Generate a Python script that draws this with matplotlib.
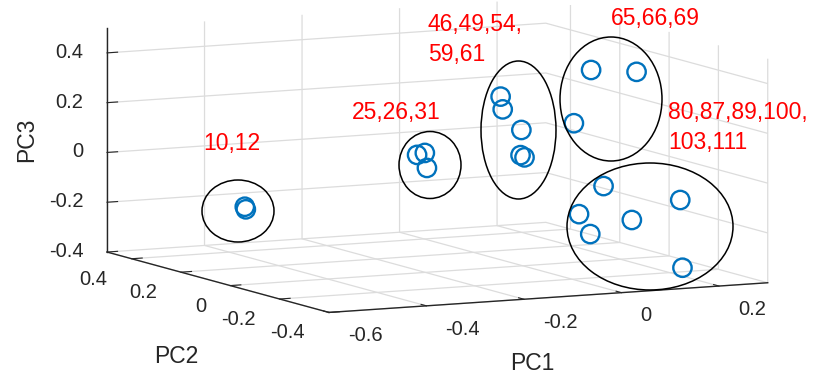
import numpy as np
import matplotlib
matplotlib.use("Agg")
import matplotlib.pyplot as plt
from matplotlib.patches import Ellipse
from mpl_toolkits.mplot3d import proj3d

plt.rcParams["font.family"] = ["Liberation Sans", "DejaVu Sans"]
plt.rcParams["axes.unicode_minus"] = False

# -----------------------------
# PCA scores
# -----------------------------
# groups: 10,12 | 25,26,31 | 46,49,54,59,61 | 65,66,69 | 80,87,89,100,103,111
pc1 = [-0.545, -0.553,
       -0.227, -0.201, -0.222,
       0.005, -0.016, -0.003, -0.030, -0.037,
       0.140, 0.208, 0.130,
       0.115, 0.247, 0.090, 0.173, 0.113, 0.201]
pc2 = [0.05, 0.03,
       -0.02, 0.00, -0.05,
       0.10, 0.05, 0.00, -0.05, -0.08,
       0.00, -0.05, 0.05,
       -0.10, -0.15, -0.05, -0.10, -0.05, -0.25]
pc3 = [-0.104, -0.108,
       0.081, 0.080, 0.036,
       0.252, 0.217, 0.146, 0.062, 0.062,
       0.368, 0.365, 0.142,
       -0.068, -0.128, -0.191, -0.212, -0.274, -0.367]

group_labels = ["10,12", "25,26,31", "46,49,54,\n59,61", "65,66,69", "80,87,89,100,\n103,111"]

pc1_lim = (-0.6, 0.3)
pc2_lim = (-0.4, 0.5)
pc3_lim = (-0.4, 0.5)
pc1_ticks = [-0.6, -0.4, -0.2, 0, 0.2]
pc2_ticks = [-0.4, -0.2, 0, 0.2, 0.4]
pc3_ticks = [-0.4, -0.2, 0, 0.2, 0.4]

# -----------------------------
# layout (pixels, origin top-left)
# -----------------------------
W, H = 814, 376
label_pos = [(203.5, 150), (352, 119), (428, 31), (611, 25), (668, 119.3)]
line_step = 30
ellipse_box = [(238, 211, 72, 62), (430, 165, 62, 67), (518.5, 130, 75, 138),
               (611, 99, 102, 124), (650, 226.5, 166, 127)]
# where the box corners should land: (x0,y0,z0), (x1,y0,z0), (x0,y1,z0), (x0,y1,z1)
corner_px = [(329, 312.5), (767.7, 282.7), (107, 252), (107, 28)]
# tick label offsets from the tick point (px right, px down to baseline)
pc1_lab_off = (19, 28.8)
pc2_lab_off = (-24, 26)
pc3_lab_off = (-23.5, 5)

ink = "#262626"
tick_fs = 14.5

fig = plt.figure(figsize=(W / 100, H / 100), dpi=100)
ax = fig.add_axes([0, 0, 1, 1], projection="3d")
ax.set_proj_type("ortho")
ax.view_init(elev=7.8, azim=-116.5)
ax.set_box_aspect((490, 497, 226))

ax.scatter(pc1, pc2, pc3, s=175, facecolors="none", edgecolors="#0072BD",
           linewidths=1.7, depthshade=False)

ax.set_xlim(pc1_lim)
ax.set_ylim(pc2_lim)
ax.set_zlim(pc3_lim)
ax.set_xticks(pc1_ticks)
ax.set_yticks(pc2_ticks)
ax.set_zticks(pc3_ticks)

for axis in (ax.xaxis, ax.yaxis, ax.zaxis):
    axis.set_tick_params(colors=ink, labelbottom=False, labeltop=False)
    axis.set_pane_color((1, 1, 1, 0))
    axis.pane.set_edgecolor((1, 1, 1, 0))
    axis.line.set_color(ink)
    axis.line.set_linewidth(1.0)
    axis._axinfo["grid"].update(color="#dcdcdc", linewidth=0.9)
    axis._axinfo["tick"]["inward_factor"] = 0.0
    axis._axinfo["tick"]["outward_factor"] = 0.3
ax.patch.set_visible(False)


def to_px(xs, ys, zs):
    # 3D data -> display pixels through the axes' own projection
    px, py, _ = proj3d.proj_transform(np.asarray(xs, float), np.asarray(ys, float),
                                      np.asarray(zs, float), ax.get_proj())
    return ax.transData.transform(np.column_stack([px, py]))


# fit the axes box so the plot box lands where it is in the picture
fig.canvas.draw()
pix = to_px([pc1_lim[0], pc1_lim[1], pc1_lim[0], pc1_lim[0]],
            [pc2_lim[0], pc2_lim[0], pc2_lim[1], pc2_lim[1]],
            [pc3_lim[0], pc3_lim[0], pc3_lim[0], pc3_lim[1]])
bb = ax.get_window_extent()
c0 = np.array([bb.x0 + bb.width / 2, bb.y0 + bb.height / 2])
q = (pix - c0) / bb.width
rows, rhs = [], []
for (qx, qy), (tx, ty) in zip(q, corner_px):
    rows.append([1, 0, qx]); rhs.append(tx)
    rows.append([0, 1, qy]); rhs.append(H - ty)
cx, cy, side = np.linalg.lstsq(np.array(rows), np.array(rhs), rcond=None)[0]
ax.set_position([(cx - side / 2) / W, (cy - side / 2) / H, side / W, side / H])


def fmt(v):
    return "0" if v == 0 else f"{v:g}"


def tick_labels(xs, ys, zs, vals, off, ha):
    for (x, y), v in zip(to_px(xs, ys, zs), vals):
        fig.text((x + off[0]) / W, (y - off[1]) / H, fmt(v), ha=ha, va="baseline",
                 fontsize=tick_fs, color=ink)


n = len(pc1_ticks)
tick_labels(pc1_ticks, [pc2_lim[0]] * n, [pc3_lim[0]] * n, pc1_ticks, pc1_lab_off, "left")
tick_labels([pc1_lim[0]] * n, pc2_ticks, [pc3_lim[0]] * n, pc2_ticks, pc2_lab_off, "right")
tick_labels([pc1_lim[0]] * n, [pc2_lim[1]] * n, pc3_ticks, pc3_ticks, pc3_lab_off, "right")

# axis labels
fig.text(176 / W, 1 - 363 / H, "PC2", fontsize=16.5, color=ink, ha="center", va="baseline")
fig.text(532.5 / W, 1 - 370 / H, "PC1", fontsize=16.5, color=ink, ha="center", va="baseline")
fig.text(33 / W, 1 - 140 / H, "PC3", fontsize=16.5, color=ink, ha="center", va="baseline",
         rotation=90, rotation_mode="anchor")

# cluster annotations
for (x, y), txt in zip(label_pos, group_labels):
    for i, line in enumerate(txt.split("\n")):
        fig.text(x / W, 1 - (y + i * line_step) / H, line, fontsize=16.5, color="red",
                 ha="left", va="baseline")

for (x, y, w, h) in ellipse_box:
    fig.patches.append(Ellipse((x / W, 1 - y / H), w / W, h / H, transform=fig.transFigure,
                               fill=False, edgecolor="black", linewidth=1.1))

fig.savefig("out.png", dpi=100)
